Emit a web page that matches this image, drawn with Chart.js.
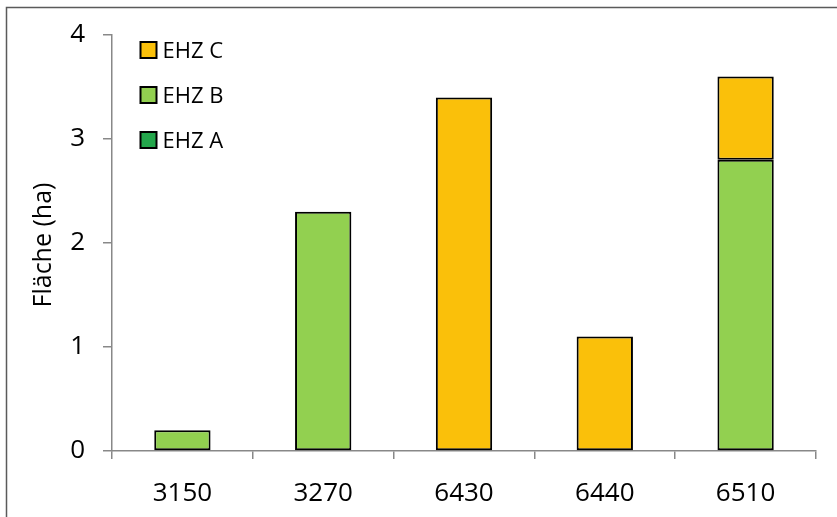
<!DOCTYPE html>
<html>
<head>
<meta charset="utf-8">
<style>
  html, body { margin: 0; padding: 0; background: #fff; }
  #wrap { width: 837px; height: 517px; position: relative; }
</style>
<script src="https://cdn.jsdelivr.net/npm/chart.js@4/dist/chart.umd.min.js"></script>
</head>
<body>
<div id="wrap"><canvas id="c" width="837" height="517"></canvas></div>
<script>
// Area per land parcel, split by EHZ class
const categories = ['3150', '3270', '6430', '6440', '6510'];
const ehzA = [0, 0, 0, 0, 0];
const ehzB = [0.2, 2.3, 0, 0, 2.8];
const ehzC = [0, 0, 3.4, 1.1, 0.8];
const yTicks = [0, 1, 2, 3, 4];
const yTitle = 'Fläche (ha)';

const FONT = '"Open Sans", "Liberation Sans", sans-serif';
const AXIS_GREY = '#888888';

const noEmptyBorder = ctx => (ctx.raw ? 2 : 0);

// Outer frame: left and top edge only
const framePlugin = {
  id: 'frame',
  beforeDraw(chart) {
    const c = chart.ctx;
    c.save();
    c.strokeStyle = '#5a5a5a';
    c.lineWidth = 1.5;
    c.beginPath();
    c.moveTo(6.5, 517);
    c.lineTo(6.5, 7.5);
    c.lineTo(837, 7.5);
    c.stroke();
    c.restore();
  }
};

// Vertical axis title
const yTitlePlugin = {
  id: 'yTitle',
  afterDraw(chart) {
    const c = chart.ctx;
    const a = chart.chartArea;
    c.save();
    c.translate(44, (a.top + a.bottom) / 2 + 2);
    c.rotate(-Math.PI / 2);
    c.font = '25px ' + FONT;
    c.fillStyle = '#000';
    c.textAlign = 'center';
    c.textBaseline = 'middle';
    c.fillText(yTitle, 0, 0);
    c.restore();
  }
};

// Legend inside the plot, series listed top-down in reverse stacking order
const innerLegendPlugin = {
  id: 'innerLegend',
  afterDraw(chart) {
    const c = chart.ctx;
    const a = chart.chartArea;
    const sets = chart.data.datasets.slice().reverse();
    c.save();
    c.font = '22px ' + FONT;
    c.textBaseline = 'middle';
    c.textAlign = 'left';
    sets.forEach((ds, i) => {
      const cy = a.top + 15 + i * 45;
      const bx = a.left + 28.5;
      c.fillStyle = ds.backgroundColor;
      c.fillRect(bx, cy - 8, 16, 16);
      c.strokeStyle = '#000';
      c.lineWidth = 2;
      c.strokeRect(bx, cy - 8, 16, 16);
      c.fillStyle = '#000';
      c.fillText(ds.label, bx + 22, cy + 2);
    });
    c.restore();
  }
};

new Chart(document.getElementById('c'), {
  type: 'bar',
  data: {
    labels: categories,
    datasets: [
      { label: 'EHZ A', data: ehzA, backgroundColor: '#23A64B', borderColor: '#000', borderWidth: noEmptyBorder },
      { label: 'EHZ B', data: ehzB, backgroundColor: '#92D050', borderColor: '#000', borderWidth: noEmptyBorder },
      { label: 'EHZ C', data: ehzC, backgroundColor: '#FAC00A', borderColor: '#000', borderWidth: noEmptyBorder }
    ]
  },
  options: {
    responsive: false,
    animation: false,
    devicePixelRatio: 1,
    layout: { padding: { left: 0, top: 35, right: 21, bottom: 0 } },
    datasets: { bar: { barPercentage: 0.4, categoryPercentage: 1.0, borderSkipped: false } },
    plugins: {
      legend: { display: false },
      tooltip: { enabled: false }
    },
    scales: {
      x: {
        stacked: true,
        afterFit(scale) { scale.height = 66; },
        grid: { offset: true, drawOnChartArea: false, drawTicks: true, tickLength: 8, color: AXIS_GREY, lineWidth: 1.5 },
        border: { color: AXIS_GREY, width: 1.5 },
        ticks: { color: '#000', font: { family: FONT, size: 26 }, padding: 19, maxRotation: 0 }
      },
      y: {
        stacked: true,
        min: 0,
        max: 4,
        afterFit(scale) { scale.width = 112; },
        afterBuildTicks(scale) { scale.ticks = yTicks.map(v => ({ value: v })); },
        grid: { drawOnChartArea: false, drawTicks: true, tickLength: 9, color: AXIS_GREY, lineWidth: 1.5 },
        border: { color: AXIS_GREY, width: 1.5 },
        ticks: { color: '#000', font: { family: FONT, size: 26 }, padding: 18 }
      }
    }
  },
  plugins: [framePlugin, yTitlePlugin, innerLegendPlugin]
});
</script>
</body>
</html>
